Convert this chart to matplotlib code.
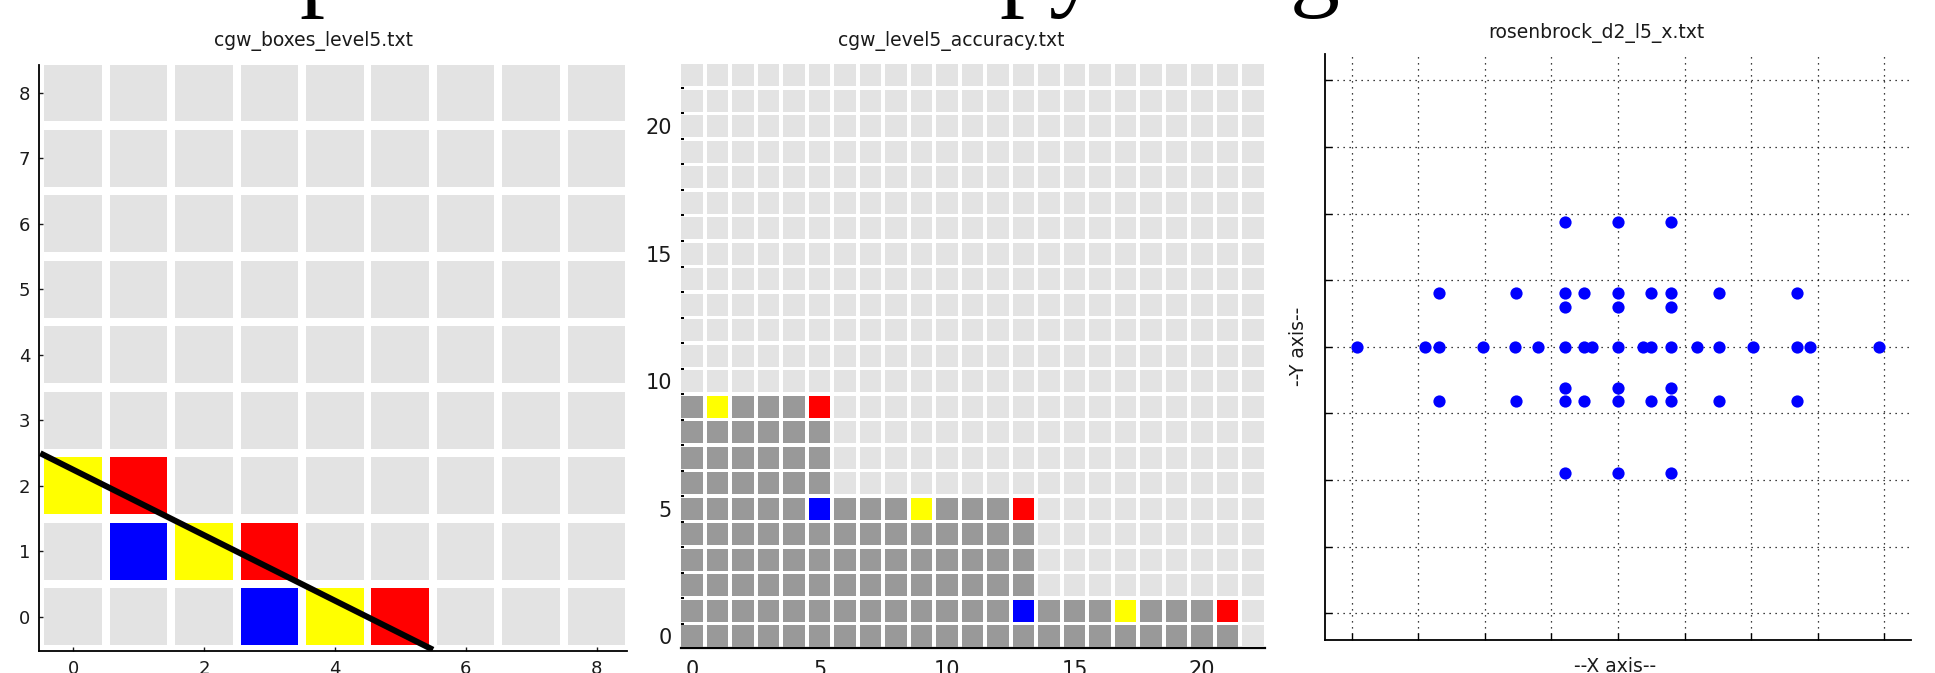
import matplotlib
matplotlib.use('Agg')
import matplotlib.pyplot as plt
from matplotlib.patches import Rectangle

W, H = 1935, 673
LIGHT = '#e3e3e3'
DARK = '#999999'
INK = '#1a1a1a'

# cgw_boxes_level5.txt : 9x9 boxes, the ones cut by the line are coloured
box_n = 9
box_cells = [(0, 2), (1, 2), (1, 1), (2, 1), (3, 1), (3, 0), (4, 0), (5, 0)]
box_colors = ['yellow', 'red', 'blue', 'yellow', 'red', 'blue', 'yellow', 'red']
cut_x = [-0.5, 5.5]
cut_y = [2.5, -0.5]

# cgw_level5_accuracy.txt : 23x23 grid, filled columns per row
acc_n = 23
acc_row_len = [22, 22, 14, 14, 14, 14, 6, 6, 6, 6]
acc_cells = [(13, 1), (17, 1), (21, 1), (5, 5), (9, 5), (13, 5), (1, 9), (5, 9)]
acc_colors = ['blue', 'yellow', 'red', 'blue', 'yellow', 'red', 'yellow', 'red']

# rosenbrock_d2_l5_x.txt : sparse grid points
pts_x = [-0.40, 0.0, 0.40,
         -1.345, -0.765, -0.40, -0.255, 0.0, 0.25, 0.40, 0.76, 1.345,
         -0.40, 0.0, 0.40,
         -1.96, -1.45, -1.345, -1.01, -0.77, -0.60, -0.40, -0.255, -0.195, 0.0,
         0.19, 0.25, 0.40, 0.595, 0.76, 1.01, 1.345, 1.445, 1.96,
         -0.40, 0.0, 0.40,
         -1.345, -0.765, -0.40, -0.255, 0.0, 0.25, 0.40, 0.76, 1.345,
         -0.40, 0.0, 0.40]
pts_y = [0.94] * 3 + [0.40] * 9 + [0.30] * 3 + [0.0] * 19 + [-0.31] * 3 + [-0.41] * 9 + [-0.95] * 3
grid_ticks = [-2, -1.5, -1, -0.5, 0, 0.5, 1, 1.5, 2]


def frame(l, t, r, b):
    # pixel box -> figure fraction
    return [l / W, 1 - b / H, (r - l) / W, (b - t) / H]


def px(x, y):
    return x / W, 1 - y / H


fig = plt.figure(figsize=(W / 100, H / 100), dpi=100)

# slide heading above, mostly cut off
serif = dict(fontsize=72, family='Liberation Serif', va='baseline', ha='left', color='black')
fig.text(*px(299, -2), 'p', **serif)
fig.text(*px(999, -2), 'py', **serif)
fig.text(*px(1290, -2), 'g', **serif)

# ---- panel 1
ax1 = fig.add_axes(frame(39.3, 64.5, 626.7, 650.7))
for i in range(box_n):
    for j in range(box_n):
        ax1.add_patch(Rectangle((i - 0.44, j - 0.435), 0.88, 0.87, color=LIGHT, lw=0, zorder=1))
for (i, j), c in zip(box_cells, box_colors):
    ax1.add_patch(Rectangle((i - 0.44, j - 0.435), 0.88, 0.87, color=c, lw=0, zorder=2))
ax1.plot(cut_x, cut_y, color='black', lw=4.3, zorder=4, solid_capstyle='butt')
ax1.set_xlim(-0.515, 8.46)
ax1.set_ylim(-0.515, 8.435)
ax1.set_xticks([0, 2, 4, 6, 8])
ax1.set_yticks(range(9))
ax1.tick_params(direction='in', length=3, width=1, labelsize=13, pad=6.5, colors=INK)
fig.text(*px(313, 46), 'cgw_boxes_level5.txt', fontsize=13.5, ha='center', va='baseline', color=INK)

# ---- panel 2
ax2 = fig.add_axes(frame(680.7, 64, 1265, 648.3))
for i in range(acc_n):
    for j in range(acc_n):
        filled = j < len(acc_row_len) and i < acc_row_len[j]
        ax2.add_patch(Rectangle((i - 0.43, j - 0.43), 0.86, 0.86, color=DARK if filled else LIGHT,
                                lw=0, zorder=3))
for (i, j), c in zip(acc_cells, acc_colors):
    ax2.add_patch(Rectangle((i - 0.43, j - 0.43), 0.86, 0.86, color=c, lw=0, zorder=4))
ax2.set_xlim(-0.443, 22.47)
ax2.set_ylim(-0.47, 22.44)
ax2.set_xticks([0, 5, 10, 15, 20])
ax2.set_yticks([0, 5, 10, 15, 20])
ax2.set_yticks([k + 0.5 for k in range(22)], minor=True)
ax2.tick_params(direction='in', length=3, width=1, labelsize=15, colors=INK)
ax2.tick_params(axis='y', pad=6.3)
ax2.tick_params(axis='x', pad=8.4)
ax2.tick_params(axis='y', which='minor', direction='in', length=2.2, width=1.5, left=True)
ax2.spines['left'].set_visible(False)
ax2.spines['bottom'].set_linewidth(1.6)
fig.text(*px(951, 46), 'cgw_level5_accuracy.txt', fontsize=13.5, ha='center', va='baseline', color=INK)

# ---- panel 3
ax3 = fig.add_axes(frame(1325, 53.6, 1911, 640))
ax3.plot(pts_x, pts_y, 'o', color='#0000ff', ms=8.8, mec='none', zorder=3)
ax3.set_xlim(-2.2, 2.2)
ax3.set_ylim(-2.2, 2.2)
ax3.set_xticks(grid_ticks)
ax3.set_yticks(grid_ticks)
ax3.grid(True, color='black', lw=0.9, linestyle=(0, (1, 3.8)))
ax3.tick_params(direction='in', length=5, width=1, labelbottom=False, labelleft=False)
fig.text(*px(1596, 38), 'rosenbrock_d2_l5_x.txt', fontsize=13.5, ha='center', va='baseline', color=INK)
fig.text(*px(1298, 346), '--Y axis--', fontsize=13.5, rotation=90, ha='center', va='center', color=INK)
fig.text(*px(1615, 672), '--X axis--', fontsize=13.5, ha='center', va='baseline', color=INK)

for ax in (ax1, ax2, ax3):
    ax.spines['top'].set_visible(False)
    ax.spines['right'].set_visible(False)
for ax in (ax1, ax3):
    ax.spines['left'].set_linewidth(1.3)
    ax.spines['bottom'].set_linewidth(1.3)

fig.savefig('out.png', dpi=100)
